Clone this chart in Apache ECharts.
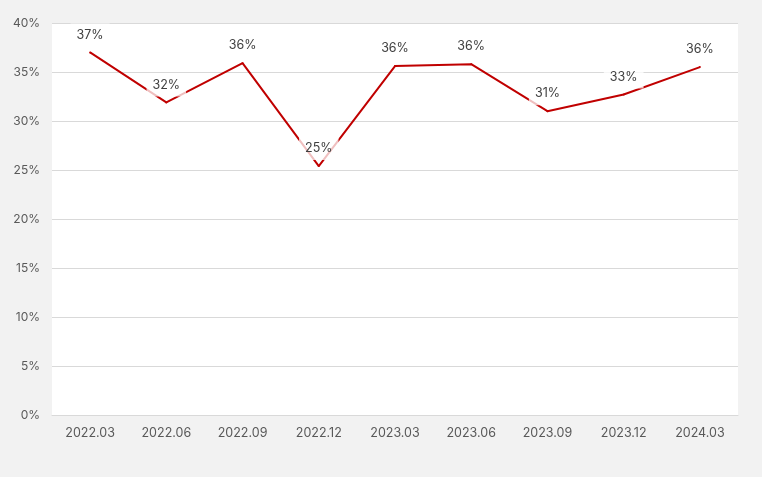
<!DOCTYPE html>
<html><head><meta charset="utf-8">
<script src="https://cdn.jsdelivr.net/npm/echarts@6/dist/echarts.min.js"></script>
<style>html,body{margin:0;padding:0;background:#f2f2f2}#c{width:762px;height:477px}</style>
</head><body><div id="c"></div>
<script>
const categories = ['2022.03','2022.06','2022.09','2022.12','2023.03','2023.06','2023.09','2023.12','2024.03'];
const values = [37.0, 31.9, 35.9, 25.4, 35.6, 35.8, 31.0, 32.7, 35.5];
const chart = echarts.init(document.getElementById('c'));
chart.setOption({
  backgroundColor: '#f2f2f2',
  animation: false,
  textStyle: { fontFamily: 'Inter' },
  grid: { left: 52, right: 24, top: 23, bottom: 62, show: true, backgroundColor: '#ffffff', borderWidth: 0 },
  xAxis: {
    type: 'category', data: categories, boundaryGap: true,
    axisLine: { show: true, lineStyle: { color: '#d9d9d9', width: 1 } },
    axisTick: { show: false },
    axisLabel: { color: '#595959', fontSize: 12.5, margin: 12, fontFamily: 'Inter' }
  },
  yAxis: {
    type: 'value', min: 0, max: 40, interval: 5,
    axisLine: { show: false }, axisTick: { show: false },
    splitLine: { lineStyle: { color: '#d9d9d9', width: 1 } },
    axisLabel: { color: '#595959', fontSize: 12, margin: 12, formatter: '{value}%', fontFamily: 'Inter' }
  },
  series: [{
    type: 'line', data: values, symbol: 'circle', symbolSize: 2, showSymbol: true,
    lineStyle: { color: '#c00000', width: 2 },
    itemStyle: { color: '#c00000' },
    z: 2,
    label: {
      show: true, position: 'top', distance: 5,
      formatter: p => Math.round(p.value) + '%',
      color: '#404040', fontSize: 12.5, fontFamily: 'Inter',
      backgroundColor: 'rgba(255,255,255,0.75)', padding: [5, 6]
    }
  }]
});
</script></body></html>
